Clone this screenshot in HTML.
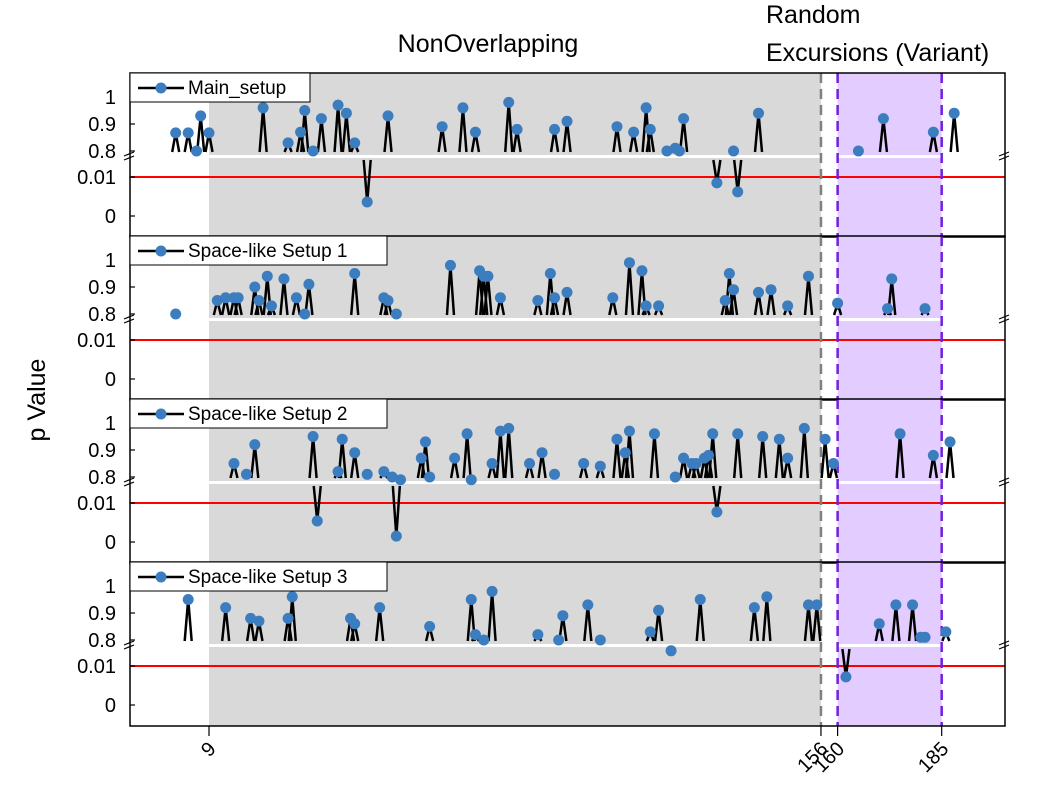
<!DOCTYPE html>
<html><head><meta charset="utf-8"><style>
body{margin:0;background:#fff;}
svg text{font-family:"Liberation Sans",sans-serif;}
</style></head><body>
<svg id="c" width="1062" height="794" xmlns="http://www.w3.org/2000/svg"></svg>
<script>
const xTicks=[9,156,160,185];
const panelNames=["Main_setup","Space-like Setup 1","Space-like Setup 2","Space-like Setup 3"];
const p1x=[1,4,6,7,9,22,28,31,32,34,36,40,42,44,52,65,70,73,81,83,92,95,107,111,114,115,119,121,122,123,135,141,165,171,183,188];
const p1v=[0.867,0.867,0.80,0.93,0.867,0.96,0.83,0.87,0.95,0.80,0.92,0.97,0.94,0.83,0.93,0.89,0.96,0.87,0.98,0.88,0.88,0.91,0.89,0.87,0.96,0.88,0.80,0.81,0.80,0.92,0.80,0.94,0.80,0.92,0.87,0.94];
const p1lx=[47,131,136];
const p1lv=[0.0036,0.0085,0.0062];
const p2x=[1,11,13,15,16,20,21,23,24,27,30,32,33,44,51,52,54,67,74,75,76,79,88,91,92,95,106,110,113,114,117,133,134,135,141,144,148,153,160,172,173,181];
const p2v=[0.80,0.85,0.86,0.86,0.86,0.90,0.85,0.94,0.83,0.93,0.86,0.80,0.91,0.95,0.86,0.85,0.80,0.98,0.96,0.94,0.94,0.86,0.85,0.95,0.86,0.88,0.86,0.99,0.96,0.83,0.83,0.85,0.95,0.89,0.88,0.89,0.83,0.94,0.84,0.82,0.93,0.82];
const p2lx=[];
const p2lv=[];
const p3x=[15,18,20,34,40,41,44,47,51,53,55,60,61,62,68,71,72,77,79,81,86,89,92,99,103,107,109,110,116,121,123,125,126,128,129,130,136,142,146,148,152,157,159,175,183,187];
const p3v=[0.85,0.81,0.92,0.95,0.82,0.94,0.89,0.81,0.82,0.80,0.79,0.87,0.93,0.80,0.87,0.96,0.79,0.85,0.97,0.98,0.85,0.89,0.81,0.85,0.84,0.94,0.89,0.97,0.96,0.80,0.87,0.85,0.85,0.87,0.88,0.96,0.96,0.95,0.94,0.87,0.98,0.94,0.85,0.96,0.88,0.93];
const p3lx=[35,54,131];
const p3lv=[0.0054,0.0015,0.0077];
const p4x=[4,13,19,21,28,29,43,44,50,62,72,73,75,77,88,93,94,100,103,115,117,120,127,140,143,153,155,170,174,178,180,181,186];
const p4v=[0.95,0.92,0.88,0.87,0.88,0.96,0.88,0.86,0.92,0.85,0.95,0.82,0.80,0.98,0.82,0.80,0.89,0.93,0.80,0.83,0.91,0.76,0.95,0.92,0.96,0.93,0.93,0.86,0.93,0.93,0.81,0.81,0.83];
const p4lx=[162];
const p4lv=[0.0072];
const ups=[[p1x,p1v],[p2x,p2v],[p3x,p3v],[p4x,p4v]];
const los=[[p1lx,p1lv],[p2lx,p2lv],[p3lx,p3lv],[p4lx,p4lv]];

const svg=document.getElementById('c');
const NS="http://www.w3.org/2000/svg";
function mk(t,a,par){const e=document.createElementNS(NS,t);for(const k in a)e.setAttribute(k,a[k]);(par||svg).appendChild(e);return e;}
const X=v=>209+(v-9)*4.163;
const yUp=(v,o)=>151+o-(v-0.8)*270;
const yLo=(v,o)=>216+o-v*3900;
const L=130,R=1005;

let t=mk('text',{x:488,y:52,'font-size':25,'text-anchor':'middle'});t.textContent='NonOverlapping';


t=mk('text',{x:766,y:23,'font-size':25});t.textContent='Random';


t=mk('text',{x:766,y:61,'font-size':25});t.textContent='Excursions (Variant)';


t=mk('text',{x:0,y:0,'font-size':25,'text-anchor':'middle',transform:'translate(45,400) rotate(-90)'});t.textContent='p Value';



for(let k=0;k<4;k++){
  const o=163*k, top=73+o, bot=(k==3?726:237+o);
  const g=mk('g',{});
  
  
  mk('rect',{x:X(9),y:top,width:X(156)-X(9),height:bot-top,fill:'#d9d9d9'},g);
  mk('rect',{x:X(160),y:top,width:X(185)-X(160),height:bot-top,fill:'#e3ccff'},g);
  mk('rect',{x:L,y:155+o,width:R-L,height:3,fill:'#fff'},g);
  mk('line',{x1:L,x2:R,y1:yLo(0.01,o),y2:yLo(0.01,o),stroke:'#ff0000','stroke-width':2},g);
  mk('line',{x1:X(156),x2:X(156),y1:top,y2:bot,stroke:'#808080','stroke-width':2.5,'stroke-dasharray':'10,6'},g);
  for(const v of [160,185]) mk('line',{x1:X(v),x2:X(v),y1:top,y2:bot,stroke:'#7020e0','stroke-width':2.5,'stroke-dasharray':'10,6'},g);
  const [ux,uv]=ups[k];
  for(let i=0;i<ux.length;i++){
    const px=X(ux[i]),py=yUp(uv[i],o),b=Math.max(152+o,py+2);
    mk('polyline',{points:`${px-3.5},${b} ${px},${py} ${px+3.5},${b}`,fill:'none',stroke:'#000','stroke-width':2.5},g);
  }
  for(let i=0;i<ux.length;i++){
    const c=mk('circle',{cx:X(ux[i]),cy:yUp(uv[i],o),r:5.5,fill:'#3c7dbf'},g);
    
    
  }
  const [lx,lv]=los[k];
  for(let i=0;i<lx.length;i++){
    const px=X(lx[i]),py=yLo(lv[i],o);
    mk('polyline',{points:`${px-3.5},${160+o} ${px},${py} ${px+3.5},${160+o}`,fill:'none',stroke:'#000','stroke-width':2.5},g);
    const c=mk('circle',{cx:px,cy:py,r:5.5,fill:'#3c7dbf'},g);
    
    
  }
  mk('rect',{x:L,y:top,width:R-L,height:bot-top,fill:'none',stroke:'#000','stroke-width':1.5},g);
  for(const bx of [L,R]){
    mk('line',{x1:bx-6,y1:156+o,x2:bx+4,y2:152+o,stroke:'#000','stroke-width':1.2},g);
    mk('line',{x1:bx-6,y1:160+o,x2:bx+4,y2:156+o,stroke:'#000','stroke-width':1.2},g);
  }
  const ticks=[[1,yUp(1,o)],[0.9,yUp(0.9,o)],[0.8,yUp(0.8,o)],['0.01',yLo(0.01,o)],[0,yLo(0,o)]];
  for(const [lab,y] of ticks){
    mk('line',{x1:L,x2:L+5,y1:y,y2:y,stroke:'#000','stroke-width':1.2},g);
    const tt=mk('text',{x:116,y:y+7,'font-size':20,'text-anchor':'end'},g);tt.textContent=lab;
    
    
  }
  const lw=(k==0?180:257);
  const lg=mk('g',{},g);
  
  
  mk('rect',{x:L,y:top,width:lw,height:29,fill:'#fff',stroke:'#000','stroke-width':1},lg);
  mk('line',{x1:L+8,x2:L+54,y1:top+15,y2:top+15,stroke:'#000','stroke-width':2.5},lg);
  mk('circle',{cx:L+31,cy:top+15,r:5.5,fill:'#3c7dbf'},lg);
  const lt=mk('text',{x:L+58,y:top+21,'font-size':19},lg);lt.textContent=panelNames[k];
}
for(const v of xTicks){
  mk('line',{x1:X(v),x2:X(v),y1:726,y2:736,stroke:'#000','stroke-width':1.2});
  const tt=mk('text',{x:0,y:0,'font-size':20,'text-anchor':'end',transform:`translate(${X(v)+8},${750}) rotate(-45)`});
  tt.textContent=v;
  
  
}
</script>
</body></html>
